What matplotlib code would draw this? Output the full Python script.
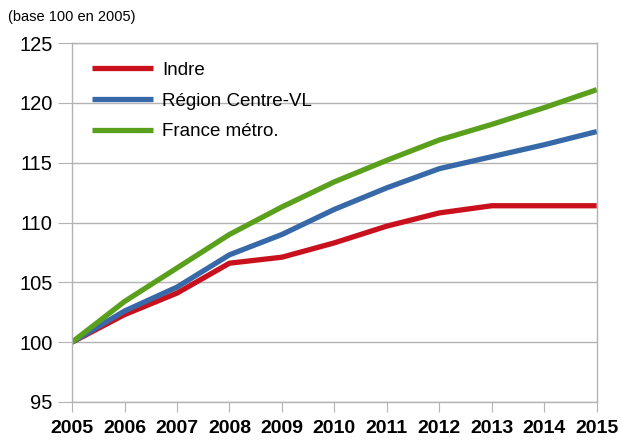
#!/usr/bin/env python3

import matplotlib.pyplot as plt

years = list(range(2005, 2016))
indre = [100, 102.3, 104.1, 106.6, 107.1, 108.3, 109.7, 110.8, 111.4, 111.4, 111.4]
region = [100, 102.6, 104.6, 107.3, 109.0, 111.1, 112.9, 114.5, 115.5, 116.5, 117.6]
france = [100, 103.4, 106.2, 109.0, 111.3, 113.4, 115.2, 116.9, 118.2, 119.6, 121.1]
labels = ['Indre', 'Région Centre-VL', 'France métro.']
colors = ['#c9111e', '#3769a8', '#5aa01d']

plt.rcParams['font.family'] = ['Liberation Sans', 'DejaVu Sans']
grey = '#b3b3b3'


def main():
    fig = plt.figure(figsize=(6.21, 4.42), dpi=100)
    ax = fig.add_axes([0.116, 0.0905, 0.845, 0.8122])

    for vals, lab, col in zip([indre, region, france], labels, colors):
        ax.plot(years, vals, color=col, lw=3.8, label=lab, solid_capstyle='butt')

    ax.set_xlim(2005, 2015)
    ax.set_ylim(95, 125)
    ax.set_yticks(range(95, 126, 5))
    ax.set_xticks(years)
    ax.set_xticklabels([str(y) for y in years], fontweight='bold', fontsize=14)
    ax.tick_params(axis='y', labelsize=14.5, length=10, color=grey, pad=4)
    ax.tick_params(axis='x', length=7, color=grey, pad=6)
    ax.yaxis.grid(True, color=grey, lw=1)
    ax.set_axisbelow(True)
    for s in ax.spines.values():
        s.set_color(grey)
        s.set_linewidth(1)

    ax.legend(loc='upper left', bbox_to_anchor=(0.005, 0.995), frameon=False,
              fontsize=13.5, handlelength=3.3, handletextpad=0.45, labelspacing=0.73)

    fig.text(0.013, 0.962, '(base 100 en 2005)', fontsize=10.5, va='center')

    fig.savefig('out.png', dpi=100)


if __name__ == "__main__":
    main()
